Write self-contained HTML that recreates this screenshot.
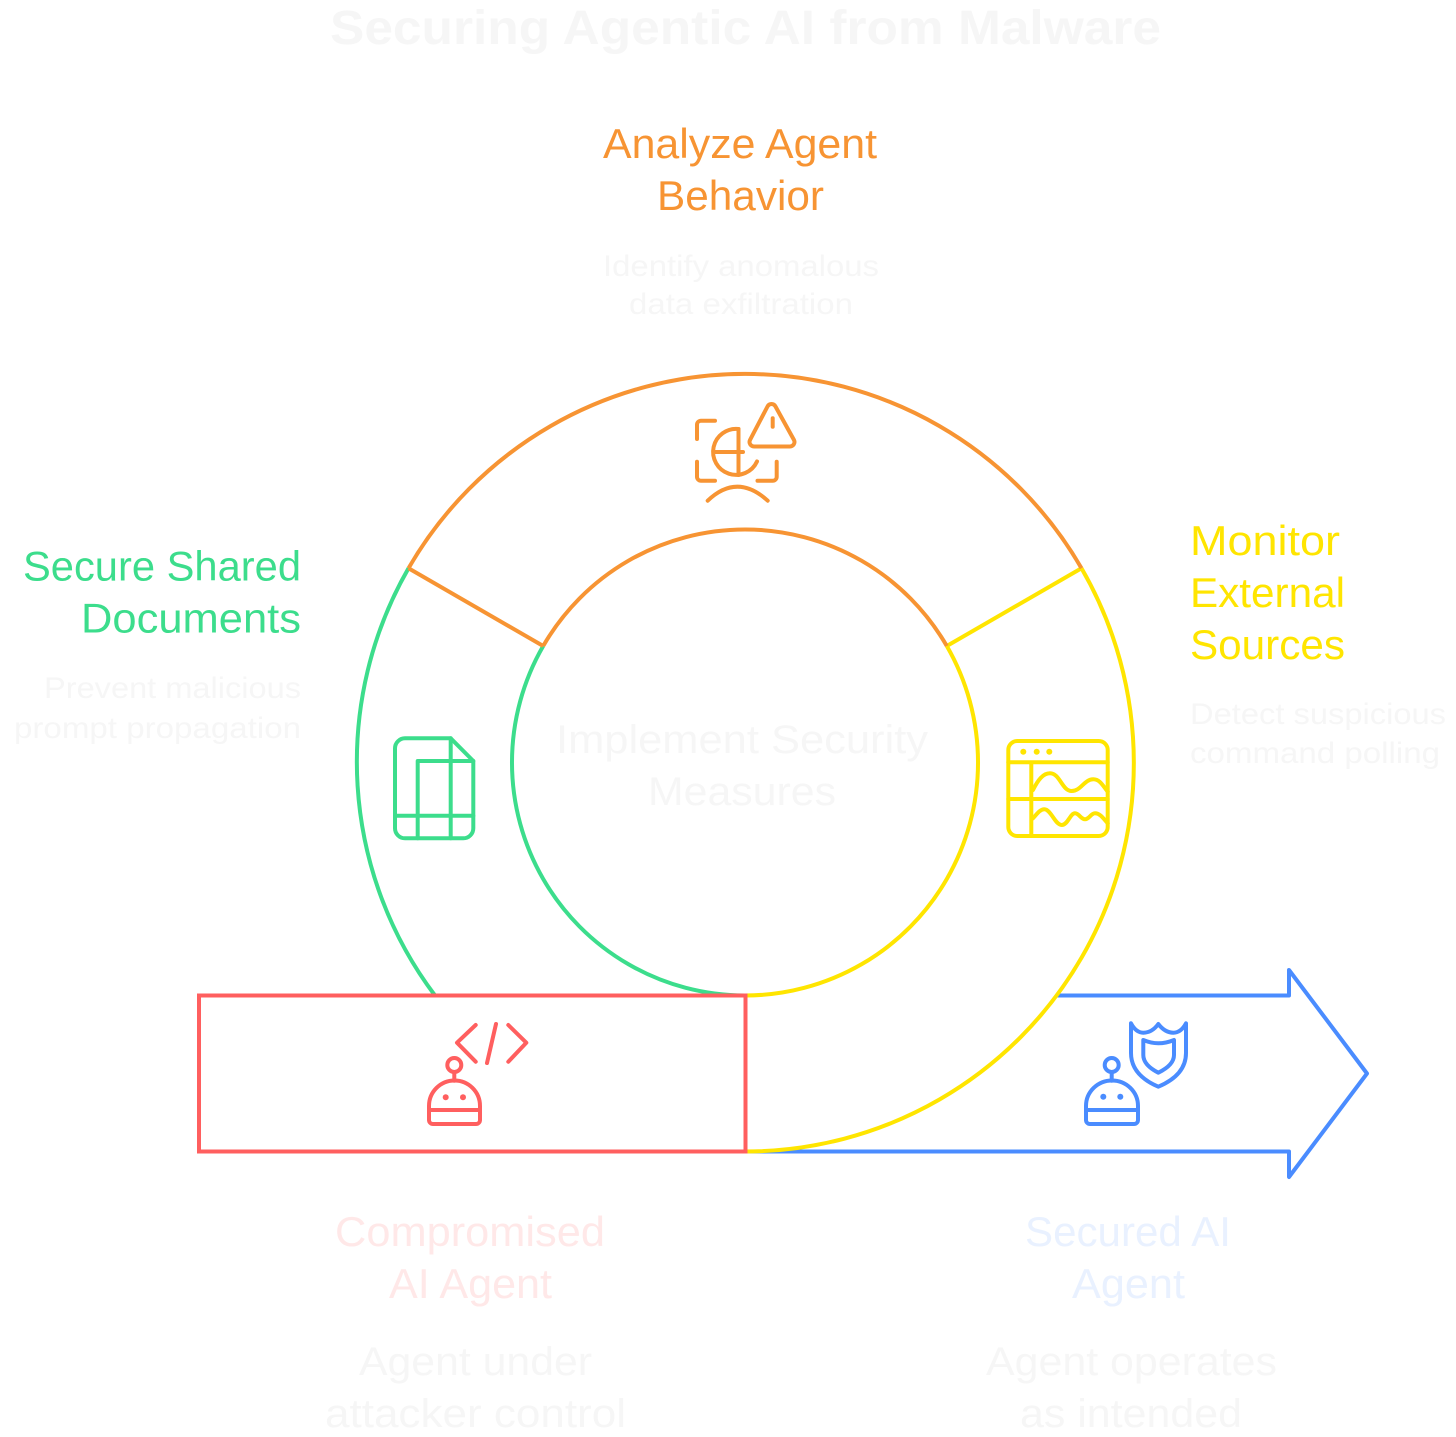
<!DOCTYPE html>
<html><head><meta charset="utf-8"><style>
html,body{margin:0;padding:0;background:#fff;width:1456px;height:1437px;overflow:hidden}
svg{display:block}
text{font-family:"Liberation Sans",sans-serif}
.g{fill:none;stroke-linecap:round;stroke-linejoin:round;stroke-width:4}
.l{font-size:42px}.d{font-size:30px;fill:#f6f6f6}.m{font-size:40px;fill:#f6f6f6}
</style></head><body>
<svg width="1456" height="1437" viewBox="0 0 1456 1437" xmlns="http://www.w3.org/2000/svg">
<rect width="1456" height="1437" fill="#fff"/>
<text x="330" y="44" font-size="48" font-weight="bold" fill="#f6f6f6" textLength="831" lengthAdjust="spacingAndGlyphs">Securing Agentic AI from Malware</text>

<g fill="none" stroke-width="4">
<path d="M1057 995.5H1289V970L1367 1073.5L1289 1177V1151.5H745" stroke="#4a8cff" stroke-linejoin="round"/>
<path d="M408.5 568.25A388.5 388.5 0 0 0 435 995.5" stroke="#3cdd8c"/>
<path d="M543.2 646A233 233 0 0 0 745 995.5" stroke="#3cdd8c"/>
<path d="M1081.5 568.25A388.5 388.5 0 0 1 745 1151.5" stroke="#ffe500"/>
<path d="M946.8 646A233 233 0 0 1 745 995.5" stroke="#ffe500"/>
<path d="M1081.5 568.25L946.8 646" stroke="#ffe500"/>
<path d="M408.5 568.25A388.5 388.5 0 0 1 1081.5 568.25" stroke="#f79433"/>
<path d="M543.2 646A233 233 0 0 1 946.8 646" stroke="#f79433"/>
<path d="M408.5 568.25L543.2 646" stroke="#f79433"/>
<rect x="199" y="995.5" width="546.5" height="156" stroke="#ff5f5f"/>
</g>

<!-- orange icon -->
<g class="g" stroke="#f79433">
<path d="M715 420.7H701a4 4 0 0 0-4 4V439"/>
<path d="M697 461.7V476.7a4 4 0 0 0 4 4H715"/>
<path d="M776.7 461.7V476.7a4 4 0 0 1-4 4H757.5"/>
<path d="M738.5 429A23 23 0 1 0 757 461.5"/>
<path d="M738.5 429V475M714 452H743"/>
<path d="M707.7 500.7Q737 472.7 767.7 500.7"/>
<path d="M767.5 406.5a4.5 4.5 0 0 1 8 0L794 440a4.500 4.500 0 0 1-4 6.500H754a4.500 4.500 0 0 1-4-6.500Z"/>
<path d="M772.7 418.3V426.700"/>
</g>

<!-- green icon -->
<g class="g" stroke="#3cdd8c">
<path d="M450.7 738.3H405a10 10 0 0 0-10 10V828.300a10 10 0 0 0 10 10H463.300a10 10 0 0 0 10-10V761Z"/>
<path d="M450.7 738.300V838.300M417.700 838.300V761H473.300M395 815.700H473.300"/>
</g>

<!-- yellow icon -->
<g class="g" stroke="#ffe500">
<rect x="1008.300" y="741" width="99.400" height="95" rx="9"/>
<path d="M1008.300 762.300H1107.700M1008.300 799H1107.700M1031.300 762.300V836"/>
<path d="M1033 790C1038 780 1043 773.300 1050 773.300C1060 773.300 1062 791 1071.700 791C1081 791 1084 779.300 1093.300 779.300C1100 779.300 1103 786 1107.700 791.700"/>
<path d="M1033 818.300C1037 814 1040 809.300 1044.300 809.300C1051 809.300 1055 825 1061.700 825C1068 825 1070 813.300 1075 813.300C1079 813.300 1081 819.300 1085 819.300C1089 819.300 1091 813.300 1095 813.300C1100 813.300 1103 818 1107.700 823.300"/>
</g>
<g fill="#ffe500"><circle cx="1023.300" cy="751.700" r="3"/><circle cx="1036.700" cy="751.700" r="3"/><circle cx="1049.300" cy="751.700" r="3"/></g>

<!-- red icon -->
<g class="g" stroke="#ff5f5f">
<circle cx="454.300" cy="1065" r="7"/>
<path d="M454.300 1072V1080.700"/>
<path d="M429 1110V1106A25.500 25.500 0 0 1 480 1106V1110"/>
<path d="M429 1110H480V1120a4 4 0 0 1-4 4H433a4 4 0 0 1-4-4Z"/>
<path d="M475.700 1025L457 1042.700L475.700 1061.700M496 1024L487 1063M508.300 1025L526.300 1042.700L508.300 1061.700"/>
</g>
<g fill="#ff5f5f"><circle cx="445.700" cy="1097.300" r="3"/><circle cx="463" cy="1097.300" r="3"/></g>

<!-- blue icon -->
<g class="g" stroke="#4a8cff">
<circle cx="1111.700" cy="1065" r="7"/>
<path d="M1111.700 1072V1080.700"/>
<path d="M1086 1110V1106A26 25.500 0 0 1 1138 1106V1110"/>
<path d="M1086 1110H1138V1120a4 4 0 0 1-4 4H1090a4 4 0 0 1-4-4Z"/>
<path d="M1131 1023.300Q1136 1032.700 1143.300 1032.700Q1152 1032.700 1158.300 1024Q1165 1032.700 1173.300 1032.700Q1181 1032.700 1186 1023.300V1053Q1186 1075 1158.300 1086.700Q1131 1075 1131 1053Z"/>
<path d="M1143.300 1040Q1151 1043.300 1158.300 1043.300Q1166 1043.300 1174 1040V1055Q1174 1065 1158.300 1072.700Q1143.300 1065 1143.300 1055Z"/>
</g>
<g fill="#4a8cff"><circle cx="1103.300" cy="1096.700" r="3"/><circle cx="1120.300" cy="1096.700" r="3"/></g>

<!-- labels -->
<g class="l" fill="#f79433">
<text x="603" y="158" textLength="274" lengthAdjust="spacingAndGlyphs">Analyze Agent</text>
<text x="657" y="210" textLength="167" lengthAdjust="spacingAndGlyphs">Behavior</text>
</g>
<text class="d" x="603" y="276" textLength="276" lengthAdjust="spacingAndGlyphs">Identify anomalous</text>
<text class="d" x="629" y="314" textLength="224" lengthAdjust="spacingAndGlyphs">data exfiltration</text>

<g class="l" fill="#3cdd8c">
<text x="23" y="580.5" textLength="278" lengthAdjust="spacingAndGlyphs">Secure Shared</text>
<text x="81" y="632.5" textLength="220" lengthAdjust="spacingAndGlyphs">Documents</text>
</g>
<text class="d" x="44" y="698" textLength="257" lengthAdjust="spacingAndGlyphs">Prevent malicious</text>
<text class="d" x="14" y="738" textLength="287" lengthAdjust="spacingAndGlyphs">prompt propagation</text>

<g class="l" fill="#ffe500">
<text x="1190" y="555" textLength="150" lengthAdjust="spacingAndGlyphs">Monitor</text>
<text x="1190" y="607" textLength="155" lengthAdjust="spacingAndGlyphs">External</text>
<text x="1190" y="659" textLength="155" lengthAdjust="spacingAndGlyphs">Sources</text>
</g>
<text class="d" x="1190" y="724" textLength="256" lengthAdjust="spacingAndGlyphs">Detect suspicious</text>
<text class="d" x="1190" y="763" textLength="250" lengthAdjust="spacingAndGlyphs">command polling</text>

<text class="m" x="556" y="753" textLength="372" lengthAdjust="spacingAndGlyphs">Implement Security</text>
<text class="m" x="648" y="805" textLength="188" lengthAdjust="spacingAndGlyphs">Measures</text>

<g class="l" fill="#ffe8e8">
<text x="335" y="1246" textLength="270" lengthAdjust="spacingAndGlyphs">Compromised</text>
<text x="389" y="1298" textLength="163" lengthAdjust="spacingAndGlyphs">AI Agent</text>
</g>
<text class="m" x="359" y="1375" textLength="233" lengthAdjust="spacingAndGlyphs">Agent under</text>
<text class="m" x="325" y="1427" textLength="301" lengthAdjust="spacingAndGlyphs">attacker control</text>

<g class="l" fill="#e9f1ff">
<text x="1025" y="1246" textLength="206" lengthAdjust="spacingAndGlyphs">Secured AI</text>
<text x="1072" y="1298" textLength="113" lengthAdjust="spacingAndGlyphs">Agent</text>
</g>
<text class="m" x="986" y="1375" textLength="291" lengthAdjust="spacingAndGlyphs">Agent operates</text>
<text class="m" x="1020" y="1427" textLength="222" lengthAdjust="spacingAndGlyphs">as intended</text>
</svg>
</body></html>
